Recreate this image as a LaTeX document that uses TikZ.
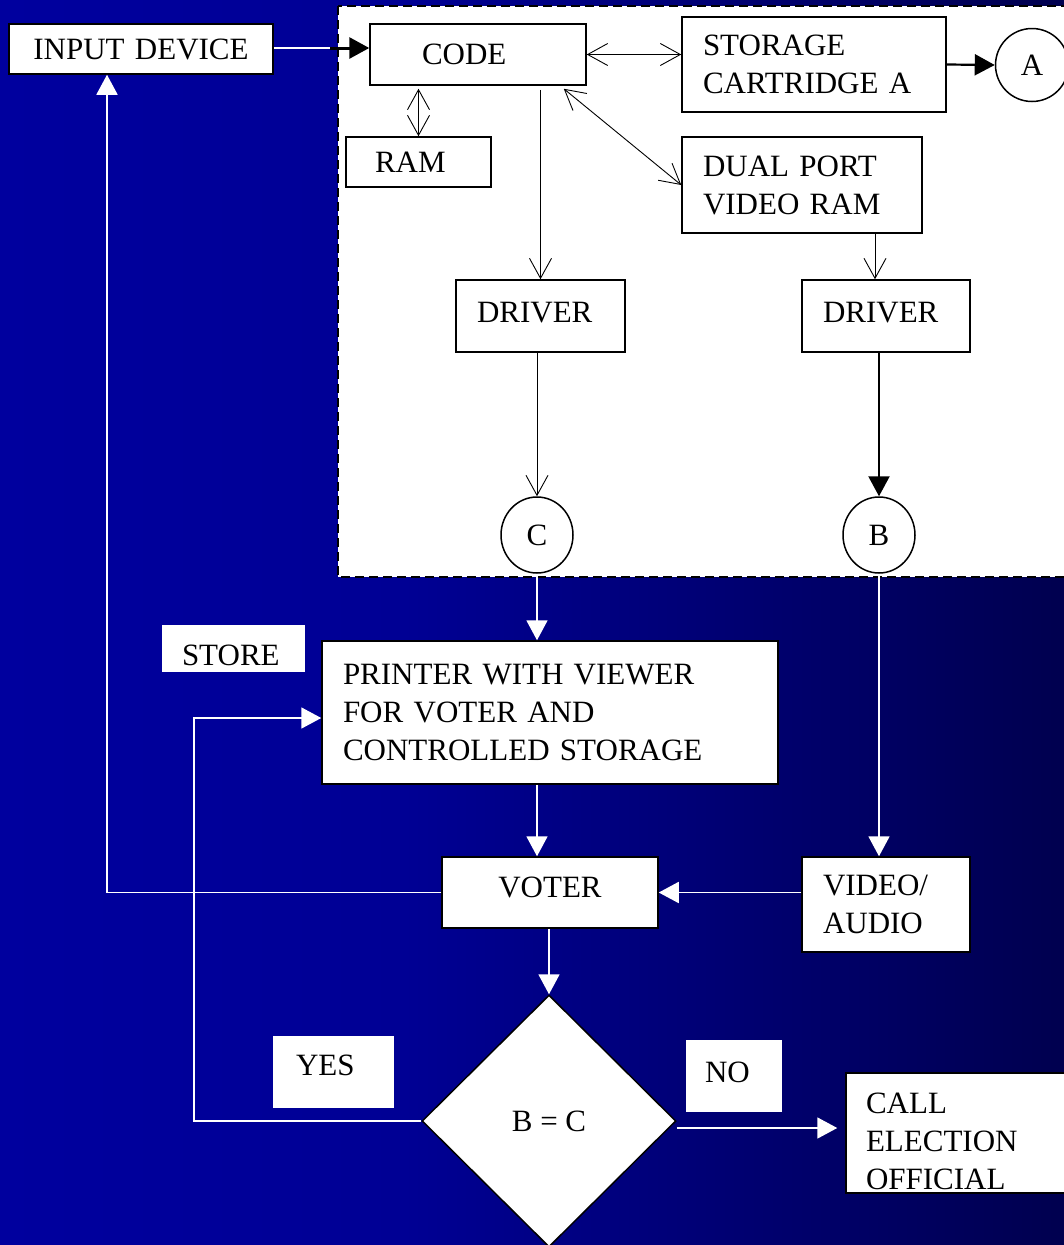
\documentclass[tikz,border=0pt]{standalone}
\usepackage{fontspec}
\setmainfont{Liberation Serif}
\usetikzlibrary{arrows.meta,shapes.geometric,calc}
\pgfdeclarehorizontalshading{bgshade}{100bp}{rgb(0bp)=(0,0,0.62); rgb(25bp)=(0,0,0.62); rgb(44bp)=(0,0,0.58); rgb(75bp)=(0,0,0.31); rgb(100bp)=(0,0,0.31)}
\begin{document}
\begin{tikzpicture}[x=1pt,y=-1pt,
  box/.style={draw=black, fill=white, line width=1.5pt, inner sep=0pt, text=black, font=\fontsize{31pt}{38pt}\selectfont},
  lbl/.style={fill=white, inner sep=0pt, text=black, font=\fontsize{31pt}{38pt}\selectfont},
  darr/.style={draw=black, line width=0.9pt, {Straight Barb[length=20pt,width=22pt]}-{Straight Barb[length=20pt,width=22pt]}},
  oarr/.style={draw=black, line width=0.9pt, -{Straight Barb[length=20pt,width=22pt]}},
  barr/.style={draw=black, line width=2.2pt, -{Triangle[length=20pt,width=21pt]}},
  warr/.style={draw=white, line width=1.8pt, -{Triangle[length=20pt,width=21pt]}},
  wline/.style={draw=white, line width=1.8pt}]
\useasboundingbox (0,0) rectangle (1064,1245);
\clip (0,0) rectangle (1064,1245);
\shade[shading=bgshade] (0,0) rectangle (1064,1245);
\path[fill=white, draw=black, line width=1.5pt, dash pattern=on 9pt off 5pt] (338,6) rectangle (1085,577);

% nodes
\node[box, minimum width=264pt, minimum height=50pt, text width=220pt, align=center] (inp) at (141,49) {INPUT DEVICE};
\node[box, minimum width=216pt, minimum height=61pt, text width=112pt, align=left] (code) at (478,54.5) {CODE};
\node[box, minimum width=145pt, minimum height=50pt, text width=87pt, align=left] (ram) at (418.5,162) {RAM};
\node[box, minimum width=264pt, minimum height=95pt, text width=222pt, align=left] (stor) at (814,64.5) {STORAGE\\CARTRIDGE A};
\node[box, circle, minimum size=73pt] (A) at (1032,65) {A};
\node[box, minimum width=240pt, minimum height=96pt, text width=198pt, align=left] (dual) at (802,185) {DUAL PORT\\VIDEO RAM};
\node[box, minimum width=169pt, minimum height=72pt, text width=127pt, align=left, text depth=8pt] (drv1) at (540.5,316) {DRIVER};
\node[box, minimum width=168pt, minimum height=72pt, text width=126pt, align=left, text depth=8pt] (drv2) at (886,316) {DRIVER};
\node[box, ellipse, minimum width=72pt, minimum height=76pt] (C) at (537,535) {C};
\node[box, ellipse, minimum width=72pt, minimum height=76pt] (B) at (879,535) {B};
\node[lbl, minimum width=143pt, minimum height=47pt, text width=103pt, align=left, text height=34pt] (store) at (233.5,648.5) {STORE};
\node[box, minimum width=456pt, minimum height=143pt, text width=414pt, align=left] (prn) at (550,712.5) {PRINTER WITH VIEWER\\FOR VOTER AND\\CONTROLLED STORAGE};
\node[box, minimum width=216pt, minimum height=71pt, text width=200pt, align=center, text depth=11pt] (voter) at (550,892.5) {VOTER};
\node[box, minimum width=168pt, minimum height=95pt, text width=126pt, align=left] (va) at (886,904.5) {VIDEO/\\AUDIO};
\node[box, diamond, minimum width=254pt, minimum height=252pt] (dia) at (549,1121) {B = C};
\node[lbl, minimum width=121pt, minimum height=72pt, text width=75pt, align=left, text depth=14pt] (yes) at (333.5,1072) {YES};
\node[lbl, minimum width=96pt, minimum height=72pt, text width=58pt, align=left, text depth=8pt] (no) at (734,1076) {NO};
\node[box, minimum width=234pt, minimum height=120pt, text width=194pt, align=left] (call) at (963,1133) {\rule{0pt}{37pt}CALL\\ELECTION\\OFFICIAL};

% connectors
\coordinate (bnd) at (338,48);
\draw[wline] (inp.east |- bnd) -- (bnd);
\draw[barr, line width=3pt] ($(bnd)+(-8,0)$) -- (bnd -| code.west);
\draw[darr] (code.east) -- (code.east -| stor.west);
\draw[darr] ([yshift=-3pt]code.south -| ram.north) -- (ram.north);
\draw[darr] ([shift={(-23,3)}]code.south east) -- (dual.west);
\draw[oarr] ([yshift=-4pt]code.south -| drv1.north) -- (drv1.north);
\coordinate (d2t) at ([xshift=-11pt]drv2.north);
\draw[oarr] (dual.south -| d2t) -- (d2t);
\draw[oarr] (C.north |- drv1.south) -- (C.north);
\draw[barr] (B.north |- drv2.south) -- (B.north);
\draw[barr] (stor.east) -- (A.west);
\draw[warr] (C.south) -- (C.south |- prn.north);
\draw[warr] (B.south) -- (B.south |- va.north);
\draw[warr] (C.south |- prn.south) -- (C.south |- voter.north);
\draw[warr] (va.west |- voter.east) -- (voter.east);
\draw[warr] (voter.west) -| ([xshift=-34pt]inp.south);
\draw[warr] (dia.north |- voter.south) -- (dia.north);
\coordinate (yl) at (194,718);
\draw[warr] (dia.west) -| (yl) -- (yl -| prn.west);
\draw[warr, shorten >=8pt] ([yshift=-7pt]dia.east) -- ([yshift=-7pt]dia.east -| call.west);
\end{tikzpicture}
\end{document}
